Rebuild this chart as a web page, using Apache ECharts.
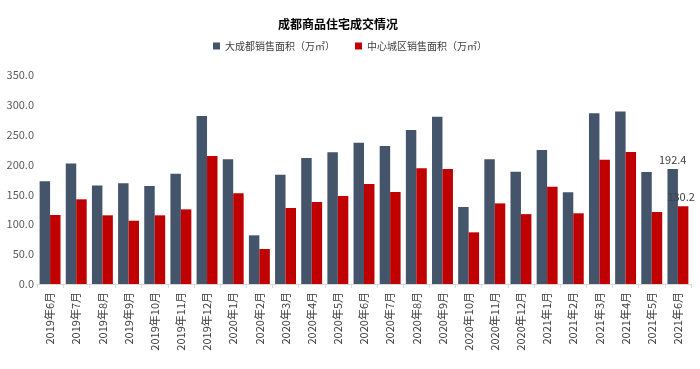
<!DOCTYPE html>
<html><head><meta charset="utf-8">
<script src="https://cdn.jsdelivr.net/npm/echarts@6/dist/echarts.min.js"></script>
<style>html,body{margin:0;padding:0;background:#fff}#c{width:700px;height:369px}</style>
</head><body><div id="c"></div>
<script>
var categories = ['2019年6月','2019年7月','2019年8月','2019年9月','2019年10月','2019年11月','2019年12月','2020年1月','2020年2月','2020年3月','2020年4月','2020年5月','2020年6月','2020年7月','2020年8月','2020年9月','2020年10月','2020年11月','2020年12月','2021年1月','2021年2月','2021年3月','2021年4月','2021年5月','2021年6月'];
var greaterChengdu = [172,202,165,168.6,164,184.8,281.4,208.8,81.5,183,211,220.6,236.7,231,258,280,129,209,188,224.4,153.5,286,289,187.6,192.4];
var centralDistrict = [115.6,141.8,115,106,115,125,214.4,151.9,58.6,127.3,137.3,147.4,167.5,154,193.7,192.6,86.5,135,117,163,118.4,208,221,120.6,130.2];
var yTicks = {min:0, max:350, interval:50};
var seriesNames = ['大成都销售面积（万㎡）','中心城区销售面积（万㎡）'];
var titleText = '成都商品住宅成交情况';

var font = "'Noto Sans CJK SC', 'Liberation Sans', sans-serif";
var chart = echarts.init(document.getElementById('c'), null, {renderer:'canvas'});
var last = categories.length - 1;
function lbl(i, dx){ return {show: i===last, position:'top', distance:4, offset:[dx,0], color:'#404040', fontSize:11, fontFamily:font, formatter: function(p){return p.value.toFixed(1);}}; }
chart.setOption({
  animation:false,
  textStyle:{fontFamily:font},
  title:{text:titleText, left:333, top:13, textAlign:'center', textStyle:{fontSize:12, fontWeight:'bold', color:'#000', fontFamily:font}},
  legend:{data:seriesNames, left:'center', top:36, itemWidth:7, itemHeight:7, itemGap:20, icon:'rect', textStyle:{fontSize:10, color:'#404040', fontFamily:font}},
  grid:{left:37, right:9, top:75, bottom:85},
  xAxis:{type:'category', data:categories, boundaryGap:true,
    axisLine:{lineStyle:{color:'#d9d9d9'}}, axisTick:{show:true, length:4, lineStyle:{color:'#d9d9d9'}},
    axisLabel:{rotate:90, interval:0, fontSize:11, color:'#404040', fontFamily:font, margin:8}},
  yAxis:{type:'value', min:yTicks.min, max:yTicks.max, interval:yTicks.interval,
    axisLine:{show:false}, axisTick:{show:false}, splitLine:{show:false},
    axisLabel:{fontSize:11, color:'#595959', margin:3, fontFamily:font, formatter:function(v){return v.toFixed(1);}}},
  series:[
    {name:seriesNames[0], type:'bar', barWidth:'40%', barGap:'0%', itemStyle:{color:'#44546A'},
     data: greaterChengdu.map(function(v,i){return {value:v, label:lbl(i,0)};})},
    {name:seriesNames[1], type:'bar', barWidth:'40%', barGap:'0%', itemStyle:{color:'#C00000'},
     data: centralDistrict.map(function(v,i){return {value:v, label:lbl(i,-2)};})}
  ]
});
</script></body></html>
